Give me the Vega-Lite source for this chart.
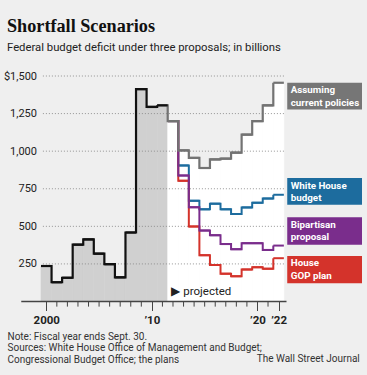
{
  "$schema": "https://vega.github.io/schema/vega-lite/v6.json",
  "width": 321,
  "height": 225.5,
  "autosize": "none",
  "padding": {"left": 41, "top": 76, "right": 5, "bottom": 73.5},
  "background": "#efefef",
  "config": {"view": {"stroke": null}, "font": "Roboto"},
  "title": {
    "text": "Shortfall Scenarios",
    "subtitle": "Federal budget deficit under three proposals; in billions",
    "anchor": "start",
    "frame": "group",
    "dx": -34,
    "offset": 16,
    "font": "Liberation Serif",
    "fontSize": 18.2,
    "fontWeight": "bold",
    "color": "#111111",
    "subtitleFont": "Roboto",
    "subtitleFontSize": 11.3,
    "subtitleColor": "#222222",
    "subtitlePadding": 6
  },
  "datasets": {
    "series": [
      {"series": "Actual", "year": 2000, "value": 236},
      {"series": "Actual", "year": 2001, "value": 128},
      {"series": "Actual", "year": 2002, "value": 158},
      {"series": "Actual", "year": 2003, "value": 378},
      {"series": "Actual", "year": 2004, "value": 413},
      {"series": "Actual", "year": 2005, "value": 318},
      {"series": "Actual", "year": 2006, "value": 248},
      {"series": "Actual", "year": 2007, "value": 161},
      {"series": "Actual", "year": 2008, "value": 459},
      {"series": "Actual", "year": 2009, "value": 1413},
      {"series": "Actual", "year": 2010, "value": 1294},
      {"series": "Actual", "year": 2011, "value": 1305},
      {"series": "Assuming current policies", "year": 2011, "value": 1305},
      {"series": "Assuming current policies", "year": 2012, "value": 1200},
      {"series": "Assuming current policies", "year": 2013, "value": 1005},
      {"series": "Assuming current policies", "year": 2014, "value": 955},
      {"series": "Assuming current policies", "year": 2015, "value": 888},
      {"series": "Assuming current policies", "year": 2016, "value": 945},
      {"series": "Assuming current policies", "year": 2017, "value": 950},
      {"series": "Assuming current policies", "year": 2018, "value": 990},
      {"series": "Assuming current policies", "year": 2019, "value": 1110},
      {"series": "Assuming current policies", "year": 2020, "value": 1200},
      {"series": "Assuming current policies", "year": 2021, "value": 1305},
      {"series": "Assuming current policies", "year": 2022, "value": 1455},
      {"series": "White House budget", "year": 2012, "value": 1200},
      {"series": "White House budget", "year": 2013, "value": 905},
      {"series": "White House budget", "year": 2014, "value": 670},
      {"series": "White House budget", "year": 2015, "value": 613},
      {"series": "White House budget", "year": 2016, "value": 651},
      {"series": "White House budget", "year": 2017, "value": 613},
      {"series": "White House budget", "year": 2018, "value": 582},
      {"series": "White House budget", "year": 2019, "value": 626},
      {"series": "White House budget", "year": 2020, "value": 657},
      {"series": "White House budget", "year": 2021, "value": 685},
      {"series": "White House budget", "year": 2022, "value": 710},
      {"series": "Bipartisan proposal", "year": 2012, "value": 1200},
      {"series": "Bipartisan proposal", "year": 2013, "value": 838},
      {"series": "Bipartisan proposal", "year": 2014, "value": 627},
      {"series": "Bipartisan proposal", "year": 2015, "value": 472},
      {"series": "Bipartisan proposal", "year": 2016, "value": 441},
      {"series": "Bipartisan proposal", "year": 2017, "value": 382},
      {"series": "Bipartisan proposal", "year": 2018, "value": 348},
      {"series": "Bipartisan proposal", "year": 2019, "value": 388},
      {"series": "Bipartisan proposal", "year": 2020, "value": 388},
      {"series": "Bipartisan proposal", "year": 2021, "value": 343},
      {"series": "Bipartisan proposal", "year": 2022, "value": 372},
      {"series": "House GOP plan", "year": 2012, "value": 1200},
      {"series": "House GOP plan", "year": 2013, "value": 803},
      {"series": "House GOP plan", "year": 2014, "value": 499},
      {"series": "House GOP plan", "year": 2015, "value": 308},
      {"series": "House GOP plan", "year": 2016, "value": 243},
      {"series": "House GOP plan", "year": 2017, "value": 185},
      {"series": "House GOP plan", "year": 2018, "value": 168},
      {"series": "House GOP plan", "year": 2019, "value": 213},
      {"series": "House GOP plan", "year": 2020, "value": 228},
      {"series": "House GOP plan", "year": 2021, "value": 218},
      {"series": "House GOP plan", "year": 2022, "value": 288}
    ],
    "labels": [
      {"series": "Assuming current policies", "text": "Assuming\ncurrent policies", "hi": 1455, "lo": 1277},
      {"series": "White House budget", "text": "White House\nbudget", "hi": 821, "lo": 643},
      {"series": "Bipartisan proposal", "text": "Bipartisan\nproposal", "hi": 561, "lo": 377},
      {"series": "House GOP plan", "text": "House\nGOP plan", "hi": 303, "lo": 121}
    ],
    "grid": [{"v": 250}, {"v": 500}, {"v": 750}, {"v": 1000}, {"v": 1250}, {"v": 1500}],
    "ticks": [
      {"t": 2001}, {"t": 2002}, {"t": 2003}, {"t": 2004}, {"t": 2005}, {"t": 2006}, {"t": 2007}, {"t": 2008}, {"t": 2009},
      {"t": 2011}, {"t": 2012}, {"t": 2013}, {"t": 2014}, {"t": 2015}, {"t": 2016}, {"t": 2017}, {"t": 2018}, {"t": 2019}, {"t": 2021}
    ]
  },
  "data": {"name": "series"},
  "transform": [
    {"calculate": "datum.year - 0.5", "as": "x0"},
    {"calculate": "datum.year + 0.5", "as": "x1"}
  ],
  "layer": [
    {
      "transform": [{"filter": "datum.series == 'Actual'"}],
      "mark": {"type": "rect", "color": "#d0d0d0", "stroke": "#d0d0d0", "strokeWidth": 0.6},
      "encoding": {
        "x": {
          "field": "x0", "type": "quantitative",
          "scale": {"domain": [1999.5, 2029.9], "nice": false, "zero": false},
          "axis": {
            "values": [2000, 2010, 2020, 2022],
            "domain": false,
            "grid": false,
            "tickColor": "#444444",
            "tickWidth": 1,
            "tickSize": 9,
            "labelExpr": "datum.value == 2000 ? '2000' : '’' + substring(toString(datum.value), 2, 4)",
            "labelFontWeight": "bold",
            "labelFontSize": 11.5,
            "labelColor": "#222222",
            "labelPadding": 4,
            "labelFlush": false,
            "labelOverlap": false,
            "title": ["Note: Fiscal year ends Sept. 30.", "Sources: White House Office of Management and Budget;", "Congressional Budget Office; the plans"],
            "titleFontSize": 10,
            "titleFontWeight": "normal",
            "titleColor": "#333333",
            "titleAnchor": "start",
            "titleAlign": "left",
            "titleBaseline": "alphabetic",
            "titleX": -34,
            "titleY": 37.5,
            "titleLineHeight": 11.6
          }
        },
        "x2": {"field": "x1"},
        "y": {
          "field": "value", "type": "quantitative",
          "scale": {"domain": [0, 1500], "nice": false, "zero": true},
          "axis": {
            "values": [250, 500, 750, 1000, 1250, 1500],
            "domain": false,
            "ticks": false,
            "grid": false,
            "labelExpr": "datum.value == 1500 ? '$1,500' : format(datum.value, ',')",
            "labelFontSize": 11,
            "labelColor": "#222222",
            "labelPadding": 4.5,
            "title": "The Wall Street Journal",
            "titleAngle": 0,
            "titleAlign": "right",
            "titleBaseline": "alphabetic",
            "titleX": 318.3,
            "titleY": 285.8,
            "titleFontSize": 10,
            "titleFontWeight": "normal",
            "titleColor": "#333333"
          }
        },
        "y2": {"datum": 0}
      }
    },
    {
      "transform": [{"filter": "datum.series == 'Assuming current policies' && datum.year >= 2012"}],
      "mark": {"type": "rect", "color": "#ffffff", "stroke": "#ffffff", "strokeWidth": 0.6},
      "encoding": {
        "x": {"field": "x0", "type": "quantitative"},
        "x2": {"field": "x1"},
        "y": {"field": "value", "type": "quantitative"},
        "y2": {"datum": 0}
      }
    },
    {
      "data": {"name": "grid"},
      "mark": {"type": "rule", "color": "#8a8a8a", "strokeWidth": 0.9, "strokeDash": [1, 2]},
      "encoding": {
        "x": {"datum": 1999.68, "type": "quantitative"},
        "x2": {"datum": 2022.57},
        "y": {"field": "v", "type": "quantitative"}
      }
    },
    {
      "data": {"name": "ticks"},
      "mark": {"type": "rule", "color": "#444444", "strokeWidth": 1},
      "encoding": {
        "x": {"field": "t", "type": "quantitative"},
        "y": {"datum": 0, "type": "quantitative"},
        "y2": {"datum": -34}
      }
    },
    {
      "data": {"values": [{}]},
      "mark": {"type": "rule", "color": "#444444", "strokeWidth": 1.5},
      "encoding": {
        "x": {"datum": 1997.63, "type": "quantitative"},
        "x2": {"datum": 2022.75},
        "y": {"datum": 0, "type": "quantitative"}
      }
    },
    {
      "transform": [{"filter": "datum.series == 'White House budget'"}],
      "mark": {"type": "line", "interpolate": "step-after", "color": "#1d6c9e", "strokeWidth": 2},
      "encoding": {
        "x": {"field": "x0", "type": "quantitative"},
        "y": {"field": "value", "type": "quantitative"}
      }
    },
    {
      "transform": [{"filter": "datum.series == 'White House budget'"}],
      "mark": {"type": "rule", "color": "#1d6c9e", "strokeWidth": 2},
      "encoding": {
        "x": {"field": "x0", "type": "quantitative"},
        "x2": {"field": "x1"},
        "y": {"field": "value", "type": "quantitative"}
      }
    },
    {
      "transform": [{"filter": "datum.series == 'House GOP plan'"}],
      "mark": {"type": "line", "interpolate": "step-after", "color": "#d4332b", "strokeWidth": 2},
      "encoding": {
        "x": {"field": "x0", "type": "quantitative"},
        "y": {"field": "value", "type": "quantitative"}
      }
    },
    {
      "transform": [{"filter": "datum.series == 'House GOP plan'"}],
      "mark": {"type": "rule", "color": "#d4332b", "strokeWidth": 2},
      "encoding": {
        "x": {"field": "x0", "type": "quantitative"},
        "x2": {"field": "x1"},
        "y": {"field": "value", "type": "quantitative"}
      }
    },
    {
      "transform": [{"filter": "datum.series == 'Bipartisan proposal'"}],
      "mark": {"type": "line", "interpolate": "step-after", "color": "#7a2d8c", "strokeWidth": 2},
      "encoding": {
        "x": {"field": "x0", "type": "quantitative"},
        "y": {"field": "value", "type": "quantitative"}
      }
    },
    {
      "transform": [{"filter": "datum.series == 'Bipartisan proposal'"}],
      "mark": {"type": "rule", "color": "#7a2d8c", "strokeWidth": 2},
      "encoding": {
        "x": {"field": "x0", "type": "quantitative"},
        "x2": {"field": "x1"},
        "y": {"field": "value", "type": "quantitative"}
      }
    },
    {
      "transform": [{"filter": "datum.series == 'Assuming current policies'"}],
      "mark": {"type": "line", "interpolate": "step-after", "color": "#737373", "strokeWidth": 2.2},
      "encoding": {
        "x": {"field": "x0", "type": "quantitative"},
        "y": {"field": "value", "type": "quantitative"}
      }
    },
    {
      "transform": [{"filter": "datum.series == 'Assuming current policies' && datum.year >= 2012"}],
      "mark": {"type": "rule", "color": "#737373", "strokeWidth": 2.2},
      "encoding": {
        "x": {"field": "x0", "type": "quantitative"},
        "x2": {"field": "x1"},
        "y": {"field": "value", "type": "quantitative"}
      }
    },
    {
      "transform": [{"filter": "datum.series == 'Actual'"}],
      "mark": {"type": "line", "interpolate": "step-after", "color": "#111111", "strokeWidth": 2.2},
      "encoding": {
        "x": {"field": "x0", "type": "quantitative"},
        "y": {"field": "value", "type": "quantitative"}
      }
    },
    {
      "transform": [{"filter": "datum.series == 'Actual'"}],
      "mark": {"type": "rule", "color": "#111111", "strokeWidth": 2.2},
      "encoding": {
        "x": {"field": "x0", "type": "quantitative"},
        "x2": {"field": "x1"},
        "y": {"field": "value", "type": "quantitative"}
      }
    },
    {
      "data": {"name": "labels"},
      "mark": {"type": "rect"},
      "encoding": {
        "x": {"datum": 2022.82, "type": "quantitative"},
        "x2": {"datum": 2029.9},
        "y": {"field": "hi", "type": "quantitative"},
        "y2": {"field": "lo"},
        "color": {
          "field": "series", "type": "nominal", "legend": null,
          "scale": {
            "domain": ["Assuming current policies", "White House budget", "Bipartisan proposal", "House GOP plan"],
            "range": ["#767676", "#1d6c9e", "#7a2d8c", "#d4332b"]
          }
        }
      }
    },
    {
      "data": {"name": "labels"},
      "mark": {"type": "text", "align": "left", "baseline": "top", "dy": 2.5, "lineBreak": "\n", "lineHeight": 12.3, "color": "#ffffff", "fontWeight": "bold", "fontSize": 9.8},
      "encoding": {
        "x": {"datum": 2023.15, "type": "quantitative"},
        "y": {"field": "hi", "type": "quantitative"},
        "text": {"field": "text"}
      }
    },
    {
      "data": {"values": [{"note": "▶ projected"}]},
      "mark": {"type": "text", "align": "left", "baseline": "middle", "color": "#222222", "fontSize": 11.5},
      "encoding": {
        "x": {"datum": 2011.85, "type": "quantitative"},
        "y": {"datum": 65, "type": "quantitative"},
        "text": {"field": "note"}
      }
    }
  ]
}
